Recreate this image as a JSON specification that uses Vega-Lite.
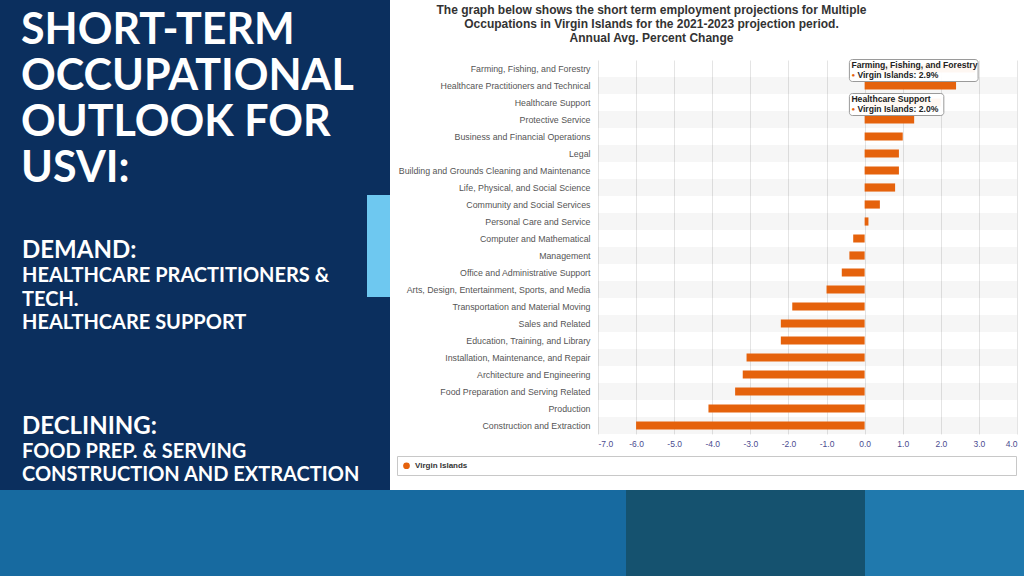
{
  "$schema": "https://vega.github.io/schema/vega-lite/v6.json",
  "background": "white",
  "padding": 0,
  "spacing": 0,
  "config": {"view": {"stroke": null}},
  "resolve": {"legend": {"color": "independent"}},
  "vconcat": [
    {
      "spacing": 6,
      "resolve": {"legend": {"color": "independent"}},
      "hconcat": [
        {
          "spacing": 0,
          "hconcat": [
            {
              "spacing": 0,
              "bounds": "flush",
              "vconcat": [
                {
                  "width": 367, "height": 215,
                  "view": {"fill": "#0b2f5e", "stroke": null},
                  "data": {"values": [{}]},
                  "mark": {"type": "text", "fontSize": 0},
                  "encoding": {"text": {"value": ""}},
                  "title": {
                    "text": ["SHORT-TERM", "OCCUPATIONAL", "OUTLOOK FOR", "USVI:"],
                    "font": "Lato", "fontWeight": "bold", "fontSize": 43, "lineHeight": 46,
                    "color": "white", "anchor": "start", "frame": "group", "orient": "top",
                    "dx": 21, "offset": -191
                  }
                },
                {
                  "width": 367, "height": 175,
                  "view": {"fill": "#0b2f5e", "stroke": null},
                  "data": {"values": [{}]},
                  "mark": {"type": "text", "fontSize": 0},
                  "encoding": {"text": {"value": ""}},
                  "title": {
                    "text": "DEMAND:",
                    "subtitle": ["HEALTHCARE PRACTITIONERS &", "TECH.", "HEALTHCARE SUPPORT"],
                    "font": "Lato", "fontWeight": "bold", "fontSize": 24, "color": "white",
                    "subtitleFont": "Lato", "subtitleFontWeight": "bold", "subtitleFontSize": 20,
                    "subtitleColor": "white", "subtitleLineHeight": 23.5, "subtitlePadding": 3,
                    "anchor": "start", "frame": "group", "orient": "top",
                    "dx": 22, "offset": -118
                  }
                },
                {
                  "width": 367, "height": 100,
                  "view": {"fill": "#0b2f5e", "stroke": null},
                  "data": {"values": [{}]},
                  "mark": {"type": "text", "fontSize": 0},
                  "encoding": {"text": {"value": ""}},
                  "title": {
                    "text": "DECLINING:",
                    "subtitle": ["FOOD PREP. & SERVING", "CONSTRUCTION AND EXTRACTION"],
                    "font": "Lato", "fontWeight": "bold", "fontSize": 24, "color": "white",
                    "subtitleFont": "Lato", "subtitleFontWeight": "bold", "subtitleFontSize": 20,
                    "subtitleColor": "white", "subtitleLineHeight": 23.5, "subtitlePadding": 3,
                    "anchor": "start", "frame": "group", "orient": "top",
                    "dx": 22, "offset": -95
                  }
                }
              ]
            },
            {
              "spacing": 0,
              "bounds": "flush",
              "vconcat": [
                {"width": 23, "height": 195, "view": {"fill": "#0b2f5e", "stroke": null}, "data": {"values": [{}]}, "mark": {"type": "text", "fontSize": 0}, "encoding": {"text": {"value": ""}}},
                {"width": 23, "height": 102, "view": {"fill": "#6ec8f0", "stroke": null}, "data": {"values": [{}]}, "mark": {"type": "text", "fontSize": 0}, "encoding": {"text": {"value": ""}}},
                {"width": 23, "height": 193, "view": {"fill": "#0b2f5e", "stroke": null}, "data": {"values": [{}]}, "mark": {"type": "text", "fontSize": 0}, "encoding": {"text": {"value": ""}}}
              ]
            }
          ]
        },
        {
          "spacing": 3,
          "resolve": {"legend": {"color": "independent"}},
          "vconcat": [
            {"width": 1, "height": 1, "data": {"values": [{}]}, "mark": {"type": "text", "fontSize": 0}, "encoding": {"text": {"value": ""}}},
            {
              "width": 419,
              "height": 374,
              "title": {
                "text": [
                  "The graph below shows the short term employment projections for Multiple",
                  "Occupations in Virgin Islands for the 2021-2023 projection period.",
                  "Annual Avg. Percent Change"
                ],
                "font": "Liberation Sans", "fontWeight": "bold", "fontSize": 12, "lineHeight": 14,
                "color": "#333333", "anchor": "middle", "dx": -156, "offset": 14
              },
              "data": {
                "values": [
                  {"occupation": "Farming, Fishing, and Forestry", "value": 2.9, "series": "Virgin Islands"},
                  {"occupation": "Healthcare Practitioners and Technical", "value": 2.4, "series": "Virgin Islands"},
                  {"occupation": "Healthcare Support", "value": 2.0, "series": "Virgin Islands"},
                  {"occupation": "Protective Service", "value": 1.3, "series": "Virgin Islands"},
                  {"occupation": "Business and Financial Operations", "value": 1.0, "series": "Virgin Islands"},
                  {"occupation": "Legal", "value": 0.9, "series": "Virgin Islands"},
                  {"occupation": "Building and Grounds Cleaning and Maintenance", "value": 0.9, "series": "Virgin Islands"},
                  {"occupation": "Life, Physical, and Social Science", "value": 0.8, "series": "Virgin Islands"},
                  {"occupation": "Community and Social Services", "value": 0.4, "series": "Virgin Islands"},
                  {"occupation": "Personal Care and Service", "value": 0.1, "series": "Virgin Islands"},
                  {"occupation": "Computer and Mathematical", "value": -0.3, "series": "Virgin Islands"},
                  {"occupation": "Management", "value": -0.4, "series": "Virgin Islands"},
                  {"occupation": "Office and Administrative Support", "value": -0.6, "series": "Virgin Islands"},
                  {"occupation": "Arts, Design, Entertainment, Sports, and Media", "value": -1.0, "series": "Virgin Islands"},
                  {"occupation": "Transportation and Material Moving", "value": -1.9, "series": "Virgin Islands"},
                  {"occupation": "Sales and Related", "value": -2.2, "series": "Virgin Islands"},
                  {"occupation": "Education, Training, and Library", "value": -2.2, "series": "Virgin Islands"},
                  {"occupation": "Installation, Maintenance, and Repair", "value": -3.1, "series": "Virgin Islands"},
                  {"occupation": "Architecture and Engineering", "value": -3.2, "series": "Virgin Islands"},
                  {"occupation": "Food Preparation and Serving Related", "value": -3.4, "series": "Virgin Islands"},
                  {"occupation": "Production", "value": -4.1, "series": "Virgin Islands"},
                  {"occupation": "Construction and Extraction", "value": -6.0, "series": "Virgin Islands"}
                ]
              },
              "transform": [
                {"calculate": "-7", "as": "axisMin"},
                {"calculate": "4", "as": "axisMax"},
                {"calculate": "-0.4", "as": "tipStart"},
                {"calculate": "datum.series + ': ' + format(datum.value, '.1f') + '%'", "as": "tip"},
                {"window": [{"op": "row_number", "as": "idx"}]}
              ],
              "encoding": {
                "y": {
                  "field": "occupation", "type": "nominal", "sort": null,
                  "scale": {
                    "domain": [
                      "Farming, Fishing, and Forestry", "Healthcare Practitioners and Technical", "Healthcare Support",
                      "Protective Service", "Business and Financial Operations", "Legal",
                      "Building and Grounds Cleaning and Maintenance", "Life, Physical, and Social Science",
                      "Community and Social Services", "Personal Care and Service", "Computer and Mathematical",
                      "Management", "Office and Administrative Support", "Arts, Design, Entertainment, Sports, and Media",
                      "Transportation and Material Moving", "Sales and Related", "Education, Training, and Library",
                      "Installation, Maintenance, and Repair", "Architecture and Engineering",
                      "Food Preparation and Serving Related", "Production", "Construction and Extraction"
                    ],
                    "paddingInner": 0, "paddingOuter": 0
                  },
                  "axis": {
                    "title": null, "ticks": false, "domain": false, "grid": false,
                    "labelFont": "Liberation Sans", "labelFontSize": 8.8, "labelColor": "#555555",
                    "labelPadding": 8, "labelLimit": 205
                  }
                }
              },
              "layer": [
                {
                  "transform": [{"filter": "datum.idx % 2 == 0"}],
                  "mark": {"type": "rect", "color": "#000000", "opacity": 0.035},
                  "encoding": {
                    "x": {
                      "field": "axisMin", "type": "quantitative",
                      "scale": {"domain": [-7, 4], "nice": false, "zero": false},
                      "axis": {
                        "title": null, "values": [-7, -6, -5, -4, -3, -2, -1, 0, 1, 2, 3, 4], "tickCount": 24,
                        "labelExpr": "replace(format(datum.value, '.1f'), '\u2212', '-')",
                        "labelOverlap": false, "grid": true, "gridColor": "#e4e4e4", "domain": false, "ticks": false,
                        "labelFont": "Liberation Sans", "labelFontSize": 8.5, "labelColor": "#4b4b8f", "labelPadding": 5
                      }
                    },
                    "x2": {"field": "axisMax"}
                  }
                },
                {
                  "mark": {"type": "bar", "height": {"band": 0.48}},
                  "encoding": {
                    "x": {
                      "field": "value", "type": "quantitative",
                      "scale": {"domain": [-7, 4], "nice": false, "zero": false},
                      "axis": {
                        "title": null, "values": [-7, -6, -5, -4, -3, -2, -1, 0, 1, 2, 3, 4], "tickCount": 24,
                        "labelExpr": "replace(format(datum.value, '.1f'), '\u2212', '-')",
                        "labelOverlap": false, "grid": true, "gridColor": "#e4e4e4", "domain": false, "ticks": false,
                        "labelFont": "Liberation Sans", "labelFontSize": 8.5, "labelColor": "#4b4b8f", "labelPadding": 5
                      }
                    },
                    "color": {
                      "field": "series", "type": "nominal",
                      "scale": {"domain": ["Virgin Islands", "_"], "range": ["#e5620c", "rgba(0,0,0,0)"]},
                      "legend": {
                        "title": null, "orient": "none", "legendX": -201, "legendY": 396,
                        "direction": "horizontal", "columns": 2, "columnPadding": 530,
                        "strokeColor": "#c8c8c8", "fillColor": "white", "padding": 5,
                        "symbolType": "circle", "symbolSize": 45,
                        "labelFont": "Liberation Sans", "labelFontWeight": "bold", "labelFontSize": 8,
                        "labelColor": "#333333",
                        "labelExpr": "datum.label == '_' ? '' : datum.label"
                      }
                    }
                  }
                },
                {
                  "transform": [{"filter": "datum.occupation === 'Farming, Fishing, and Forestry' || datum.occupation === 'Healthcare Support'"}],
                  "mark": {"type": "rect", "fill": "white", "fillOpacity": 0.95, "stroke": "#9a9a9a", "strokeWidth": 1, "cornerRadius": 3, "height": 22, "yOffset": 2, "x2Offset": 3},
                  "encoding": {
                    "x": {"field": "tipStart", "type": "quantitative"},
                    "x2": {"field": "value"}
                  }
                },
                {
                  "transform": [{"filter": "datum.occupation === 'Farming, Fishing, and Forestry' || datum.occupation === 'Healthcare Support'"}],
                  "mark": {"type": "text", "align": "left", "baseline": "middle", "dx": 2, "dy": -3.5, "font": "Liberation Sans", "fontWeight": "bold", "fontSize": 8.6, "color": "#222222"},
                  "encoding": {
                    "x": {"field": "tipStart", "type": "quantitative"},
                    "text": {"field": "occupation", "type": "nominal"}
                  }
                },
                {
                  "transform": [{"filter": "datum.occupation === 'Farming, Fishing, and Forestry' || datum.occupation === 'Healthcare Support'"}],
                  "mark": {"type": "text", "align": "left", "baseline": "middle", "dx": 2, "dy": 6.5, "font": "Liberation Sans", "fontSize": 6, "color": "#e5620c", "text": "●"},
                  "encoding": {
                    "x": {"field": "tipStart", "type": "quantitative"}
                  }
                },
                {
                  "transform": [{"filter": "datum.occupation === 'Farming, Fishing, and Forestry' || datum.occupation === 'Healthcare Support'"}],
                  "mark": {"type": "text", "align": "left", "baseline": "middle", "dx": 8, "dy": 6.5, "font": "Liberation Sans", "fontWeight": "bold", "fontSize": 8.6, "color": "#222222"},
                  "encoding": {
                    "x": {"field": "tipStart", "type": "quantitative"},
                    "text": {"field": "tip", "type": "nominal"}
                  }
                }
              ]
            }
          ]
        }
      ]
    },
    {
      "spacing": 0,
      "bounds": "flush",
      "hconcat": [
        {"width": 626, "height": 86, "view": {"fill": "#176aa0", "stroke": null}, "data": {"values": [{}]}, "mark": {"type": "text", "fontSize": 0}, "encoding": {"text": {"value": ""}}},
        {"width": 239, "height": 86, "view": {"fill": "#15526f", "stroke": null}, "data": {"values": [{}]}, "mark": {"type": "text", "fontSize": 0}, "encoding": {"text": {"value": ""}}},
        {"width": 159, "height": 86, "view": {"fill": "#2079ad", "stroke": null}, "data": {"values": [{}]}, "mark": {"type": "text", "fontSize": 0}, "encoding": {"text": {"value": ""}}}
      ]
    }
  ]
}
